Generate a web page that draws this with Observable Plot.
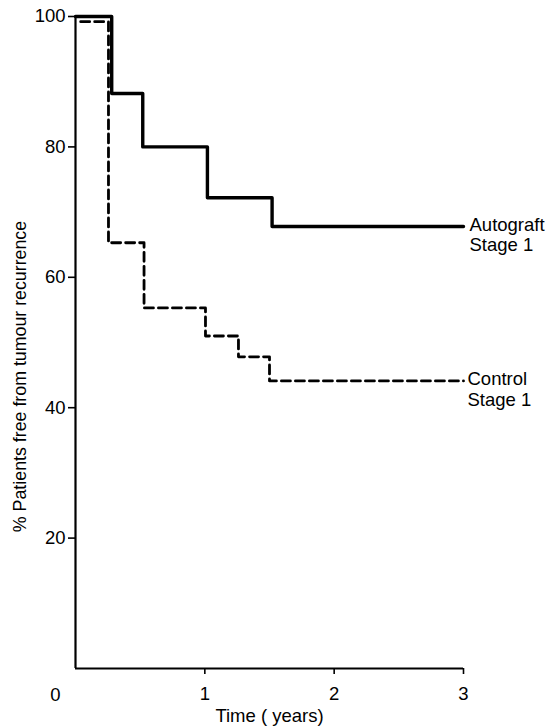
<!DOCTYPE html>
<html>
<head>
<meta charset="utf-8">
<script src="https://cdn.jsdelivr.net/npm/d3@7"></script>
<script src="https://cdn.jsdelivr.net/npm/@observablehq/plot@0.6"></script>
<style>
  html, body { margin: 0; padding: 0; background: #fff; }
  svg { display: block; }
</style>
</head>
<body>
<div id="chart"></div>
<script>
// Autograft Stage 1 (solid)
const autograftTime = [0, 0.28, 0.52, 1.02, 1.52, 3];
const autograftPct  = [100, 88.2, 80, 72.2, 67.8, 67.8];
// Control Stage 1 (dashed)
const controlTime = [0.04, 0.255, 0.53, 1.005, 1.26, 1.50, 3];
const controlPct  = [99.2, 65.3, 55.3, 51.0, 47.8, 44.1, 44.1];

const xTicks = [1, 2, 3];
const yTicks = [20, 40, 60, 80, 100];
const yLabel = "% Patients free from tumour recurrence";
const xLabel = "Time ( years)";
const autograftLabel = "Autograft\nStage 1";
const controlLabel = "Control\nStage 1";

const autograft = autograftTime.map((t, i) => ({t, p: autograftPct[i]}));
const control = controlTime.map((t, i) => ({t, p: controlPct[i]}));

const font = "'Liberation Sans', Arial, sans-serif";

const chart = Plot.plot({
  width: 550,
  height: 727,
  marginLeft: 75,
  marginRight: 87,
  marginTop: 16,
  marginBottom: 59,
  style: {fontFamily: font, fontSize: "18px", color: "#000", background: "#fff"},
  x: {domain: [0, 3]},
  y: {domain: [0, 100]},
  marks: [
    Plot.axisY({ticks: yTicks, tickFormat: d => String(d), tickSize: 7, tickPadding: 3, label: null, fontSize: 18.5, stroke: "#000", strokeWidth: 1.6}),
    Plot.axisX({ticks: xTicks, tickFormat: d => String(d), tickSize: 6, tickPadding: 12, label: null, fontSize: 18.5, stroke: "#000", strokeWidth: 1.6}),
    Plot.ruleX([0], {y1: 0, y2: 100, stroke: "#000", strokeWidth: 2.2}),
    Plot.ruleY([0], {x1: 0, x2: 3, stroke: "#000", strokeWidth: 2.2}),
    Plot.lineY(control, {x: "t", y: "p", curve: "step-after", stroke: "#000", strokeWidth: 2.8, strokeDasharray: "9,5"}),
    Plot.lineY(autograft, {x: "t", y: "p", curve: "step-after", stroke: "#000", strokeWidth: 3.4}),
    Plot.text([autograft[autograft.length - 1]], {x: "t", y: "p", text: () => autograftLabel, textAnchor: "start", lineAnchor: "top", dx: 6, dy: -10, lineHeight: 1.1, fontSize: 18.5, fill: "#000"}),
    Plot.text([control[control.length - 1]], {x: "t", y: "p", text: () => controlLabel, textAnchor: "start", lineAnchor: "top", dx: 4, dy: -10, lineHeight: 1.1, fontSize: 18.5, fill: "#000"}),
    Plot.text([0], {x: 0, y: 0, text: () => "0", dx: -20, dy: 27, fontSize: 18.5, fill: "#000"}),
    Plot.text([xLabel], {frameAnchor: "bottom", text: d => d, textAnchor: "middle", lineAnchor: "middle", dy: 48, fontSize: 18.5, fill: "#000"}),
    Plot.text([yLabel], {frameAnchor: "left", text: d => d, textAnchor: "middle", lineAnchor: "middle", rotate: -90, dx: -55, dy: 34, fontSize: 17.8, fill: "#000"})
  ]
});
document.getElementById("chart").appendChild(chart);
</script>
</body>
</html>
